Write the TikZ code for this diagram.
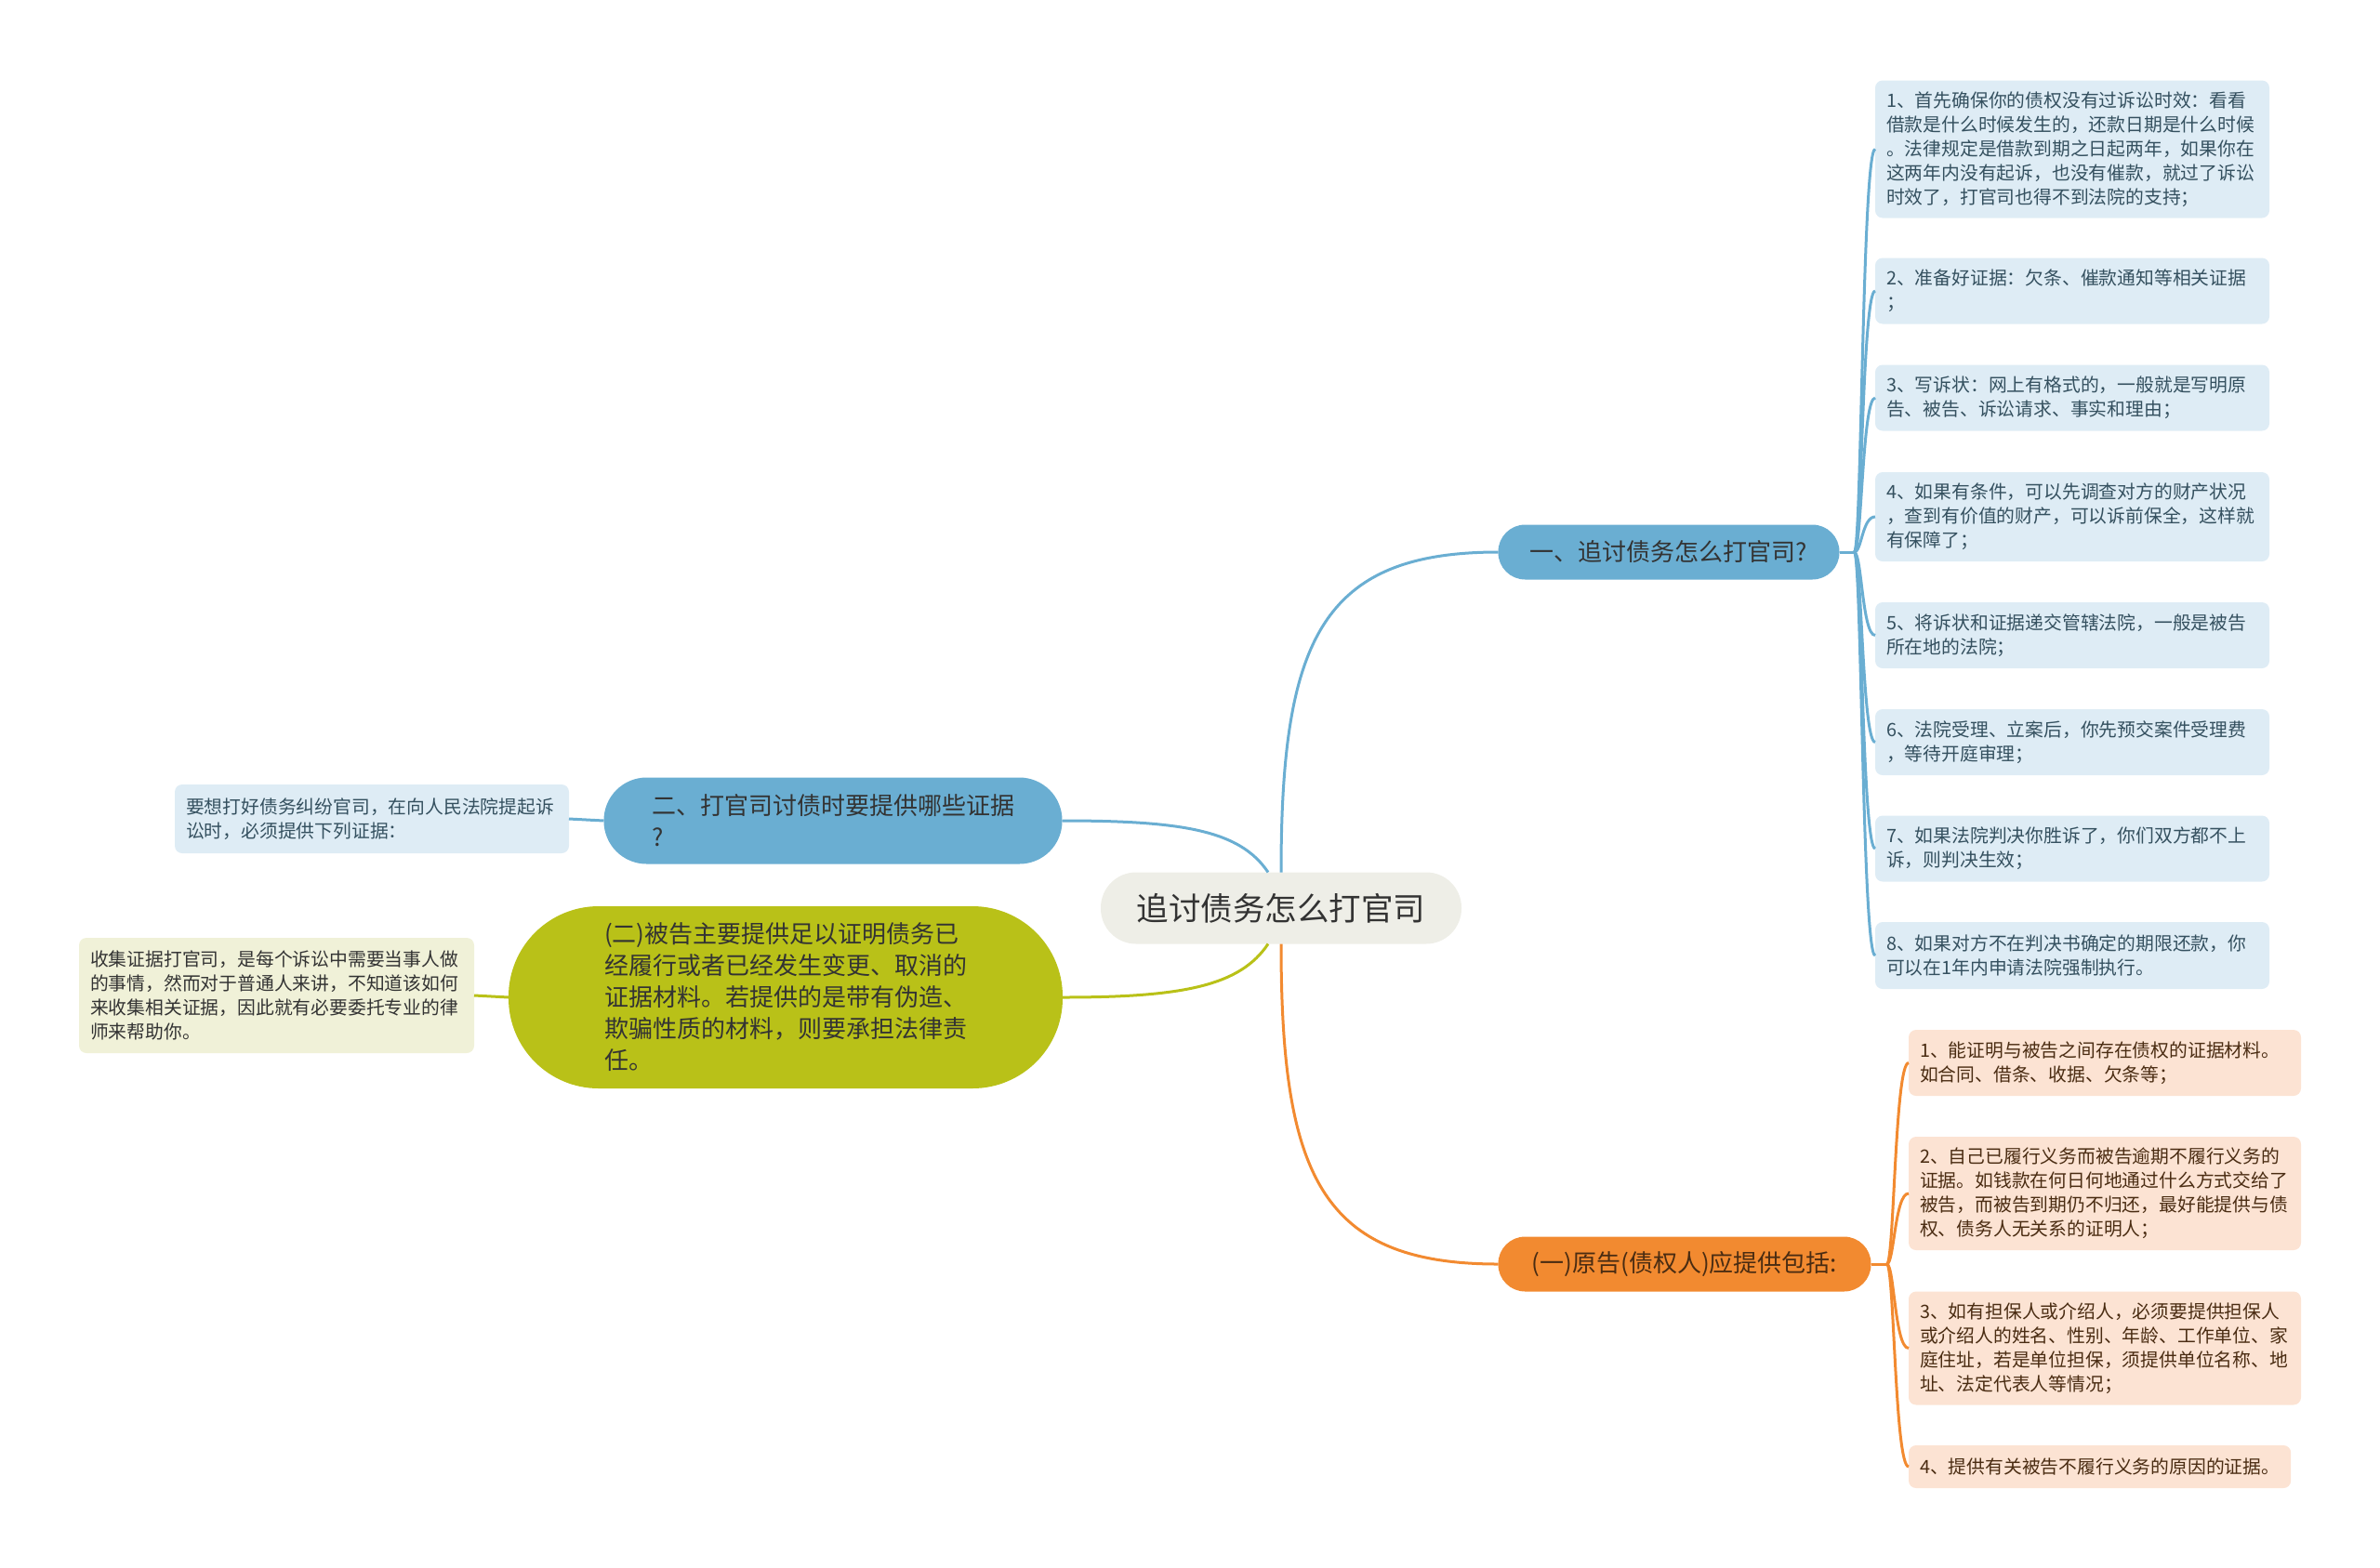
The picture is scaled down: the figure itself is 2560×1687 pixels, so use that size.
\documentclass[tikz,border=0pt]{standalone}
\usepackage{fontspec}
\setmainfont{Noto Sans CJK SC}
\usetikzlibrary{positioning}
\definecolor{myblue}{HTML}{6AAED2}
\definecolor{mybluelight}{HTML}{DEECF5}
\definecolor{mybluetext}{HTML}{34505F}
\definecolor{myorange}{HTML}{F28A30}
\definecolor{myorangelight}{HTML}{FCE3D3}
\definecolor{myorangetext}{HTML}{4A2C12}
\definecolor{mygreen}{HTML}{B9C118}
\definecolor{mygreenlight}{HTML}{F0F1D8}
\definecolor{mycenter}{HTML}{EEEEE7}
\definecolor{mytext}{HTML}{333333}

\begin{document}
\begin{tikzpicture}[
    x=1pt, y=-1pt,
    every node/.style={inner sep=0pt, outer sep=0pt},
    root/.style={fill=mycenter, text=mytext, rounded corners=38pt,
        minimum width=388pt, minimum height=77pt,
        font=\fontsize{34.5}{40}\selectfont},
    branch/.style={text=mytext, font=\fontsize{26}{34}\selectfont, align=left},
    leaf/.style={rounded corners=8pt, inner xsep=12pt, align=left,
        font=\fontsize{19.8}{26}\selectfont},
    blueleaf/.style={leaf, fill=mybluelight, text=mybluetext, text width=400pt, anchor=west},
    orangeleaf/.style={leaf, fill=myorangelight, text=myorangetext, text width=398pt, anchor=west},
    bluelink/.style={draw=myblue, line width=3pt},
    orangelink/.style={draw=myorange, line width=3pt},
    greenlink/.style={draw=mygreen, line width=3pt}
]
    \useasboundingbox (0,0) rectangle (2560,1687);

    % --- 1. CENTRE AND MAIN BRANCHES ---
    \node[root] (c) at (1378,977) {追讨债务怎么打官司};

    \node[branch, fill=myblue, rounded corners=29pt, minimum width=367pt, minimum height=59pt]
        (b1) at (1795,594) {一、追讨债务怎么打官司?};
    \node[branch, fill=myorange, text=myorangetext, rounded corners=29pt, minimum width=401pt, minimum height=59pt]
        (b3) at (1812,1360) {(一)原告(债权人)应提供包括:};
    \node[branch, fill=myblue, rounded corners=46pt, text width=390pt, minimum width=493pt, minimum height=93pt]
        (b2) at (896,883) {二、打官司讨债时要提供哪些证据\\?};
    \node[branch, fill=mygreen, rounded corners=97pt, text width=390pt, minimum width=596pt, minimum height=196pt]
        (g) at (845,1073) {(二)被告主要提供足以证明债务已\\经履行或者已经发生变更、取消的\\证据材料。若提供的是带有伪造、\\欺骗性质的材料，则要承担法律责\\任。};

    % --- 2. LEFT LEAVES ---
    \node[leaf, fill=mybluelight, text=mybluetext, text width=400pt, anchor=east, minimum height=74pt]
        (lb) at (612,881) {要想打好债务纠纷官司，在向人民法院提起诉\\讼时，必须提供下列证据：};
    \node[leaf, fill=mygreenlight, text=mytext, text width=401pt, anchor=east, minimum height=124pt]
        (lg) at (510,1071) {收集证据打官司，是每个诉讼中需要当事人做\\的事情，然而对于普通人来讲，不知道该如何\\来收集相关证据，因此就有必要委托专业的律\\师来帮助你。};

    % --- 3. RIGHT LEAVES (blue) ---
    \node[blueleaf, minimum height=148pt] (l1) at (2017,160.5)
        {1、首先确保你的债权没有过诉讼时效：看看\\借款是什么时候发生的，还款日期是什么时候\\。法律规定是借款到期之日起两年，如果你在\\这两年内没有起诉，也没有催款，就过了诉讼\\时效了，打官司也得不到法院的支持；};
    \node[blueleaf, minimum height=71pt] (l2) at (2017,313)
        {2、准备好证据：欠条、催款通知等相关证据\\；};
    \node[blueleaf, minimum height=71pt] (l3) at (2017,428)
        {3、写诉状：网上有格式的，一般就是写明原\\告、被告、诉讼请求、事实和理由；};
    \node[blueleaf, minimum height=96pt] (l4) at (2017,556)
        {4、如果有条件，可以先调查对方的财产状况\\，查到有价值的财产，可以诉前保全，这样就\\有保障了；};
    \node[blueleaf, minimum height=71pt] (l5) at (2017,683.5)
        {5、将诉状和证据递交管辖法院，一般是被告\\所在地的法院；};
    \node[blueleaf, minimum height=71pt] (l6) at (2017,798.5)
        {6、法院受理、立案后，你先预交案件受理费\\，等待开庭审理；};
    \node[blueleaf, minimum height=71pt] (l7) at (2017,913)
        {7、如果法院判决你胜诉了，你们双方都不上\\诉，则判决生效；};
    \node[blueleaf, minimum height=72pt] (l8) at (2017,1028)
        {8、如果对方不在判决书确定的期限还款，你\\可以在1年内申请法院强制执行。};

    % --- 4. RIGHT LEAVES (orange) ---
    \node[orangeleaf, minimum height=71pt] (o1) at (2053,1143.5)
        {1、能证明与被告之间存在债权的证据材料。\\如合同、借条、收据、欠条等；};
    \node[orangeleaf, minimum height=122pt] (o2) at (2053,1284)
        {2、自己已履行义务而被告逾期不履行义务的\\证据。如钱款在何日何地通过什么方式交给了\\被告，而被告到期仍不归还，最好能提供与债\\权、债务人无关系的证明人；};
    \node[orangeleaf, minimum height=122pt] (o3) at (2053,1450.5)
        {3、如有担保人或介绍人，必须要提供担保人\\或介绍人的姓名、性别、年龄、工作单位、家\\庭住址，若是单位担保，须提供单位名称、地\\址、法定代表人等情况；};
    \node[leaf, fill=myorangelight, text=myorangetext, anchor=west, minimum height=46pt]
        (o4) at (2053,1578) {4、提供有关被告不履行义务的原因的证据。};

    % --- 5. CONNECTORS ---
    \coordinate (cnw) at ([xshift=-14pt]c.north);
    \coordinate (csw) at ([xshift=-14pt]c.south);
    \coordinate (b1t) at ([xshift=16pt]b1.east);
    \coordinate (b3t) at ([xshift=17pt]b3.east);

    \draw[bluelink] (c.north) .. controls +(0,-250) and +(-190,0) .. (b1.west);
    \draw[orangelink] (c.south) .. controls +(0,250) and +(-190,0) .. (b3.west);
    \draw[bluelink] (cnw) .. controls +(-30,-45) and +(130,0) .. (b2.east);
    \draw[greenlink] (csw) .. controls +(-30,45) and +(130,0) .. (g.east);

    \draw[bluelink] (b2.west) -- (lb.east);
    \draw[greenlink] (g.west) -- (lg.east);

    \draw[bluelink] (b1.east) -- (b1t);
    \draw[bluelink] (b1t) .. controls +(8,0) and +(-14,0) .. (l1.west);
    \draw[bluelink] (b1t) .. controls +(8,0) and +(-14,0) .. (l2.west);
    \draw[bluelink] (b1t) .. controls +(8,0) and +(-14,0) .. (l3.west);
    \draw[bluelink] (b1t) .. controls +(8,0) and +(-14,0) .. (l4.west);
    \draw[bluelink] (b1t) .. controls +(8,0) and +(-14,0) .. (l5.west);
    \draw[bluelink] (b1t) .. controls +(8,0) and +(-14,0) .. (l6.west);
    \draw[bluelink] (b1t) .. controls +(8,0) and +(-14,0) .. (l7.west);
    \draw[bluelink] (b1t) .. controls +(8,0) and +(-14,0) .. (l8.west);

    \draw[orangelink] (b3.east) -- (b3t);
    \draw[orangelink] (b3t) .. controls +(8,0) and +(-15,0) .. (o1.west);
    \draw[orangelink] (b3t) .. controls +(8,0) and +(-15,0) .. (o2.west);
    \draw[orangelink] (b3t) .. controls +(8,0) and +(-15,0) .. (o3.west);
    \draw[orangelink] (b3t) .. controls +(8,0) and +(-15,0) .. (o4.west);

\end{tikzpicture}
\end{document}
